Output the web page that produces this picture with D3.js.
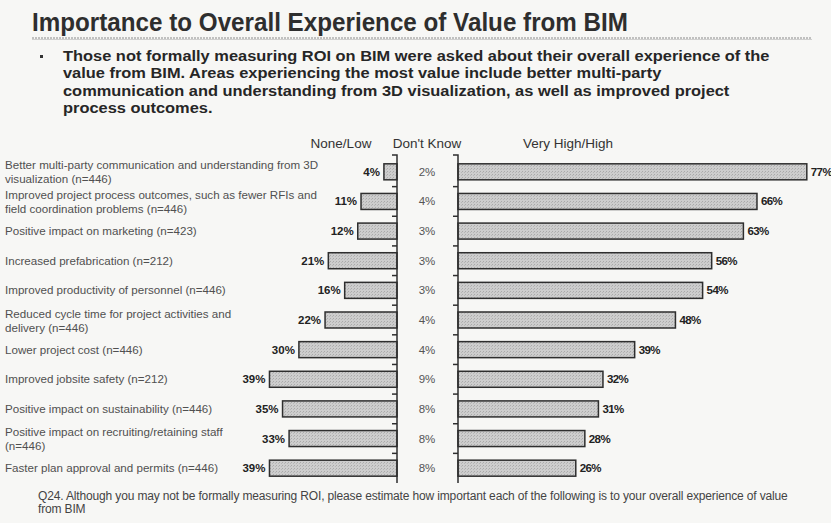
<!DOCTYPE html>
<html>
<head>
<meta charset="utf-8">
<script src="https://cdn.jsdelivr.net/npm/d3@7"></script>
<style>
  body { margin: 0; background: #f7f7f5; }
  svg { display: block; }
</style>
</head>
<body>
<div id="chart"></div>
<script>
const categories = [
  "Better multi-party communication and understanding from 3D\nvisualization (n=446)",
  "Improved project process outcomes, such as fewer RFIs and\nfield coordination problems (n=446)",
  "Positive impact on marketing (n=423)",
  "Increased prefabrication (n=212)",
  "Improved productivity of personnel (n=446)",
  "Reduced cycle time for project activities and\ndelivery (n=446)",
  "Lower project cost (n=446)",
  "Improved jobsite safety (n=212)",
  "Positive impact on sustainability (n=446)",
  "Positive impact on recruiting/retaining staff\n(n=446)",
  "Faster plan approval and permits (n=446)"
];
const noneLow  = [4, 11, 12, 21, 16, 22, 30, 39, 35, 33, 39];
const dontKnow = [2, 4, 3, 3, 3, 4, 4, 9, 8, 8, 8];
const veryHigh = [77, 66, 63, 56, 54, 48, 39, 32, 31, 28, 26];
const headers = ["None/Low", "Don't Know", "Very High/High"];

const title = "Importance to Overall Experience of Value from BIM";
const bulletLines = [
  "Those not formally measuring ROI on BIM were asked about their overall experience of the",
  "value from BIM.  Areas experiencing the most value include better multi-party",
  "communication and understanding from 3D visualization, as well as improved project",
  "process outcomes."
];
const footLines = [
  "Q24. Although you may not be formally measuring ROI, please estimate how important each of the following is to your overall experience of value",
  "from BIM"
];

const W = 831, H = 523;
const sans = "'Liberation Sans', Arial, sans-serif";

const svg = d3.select("#chart").append("svg")
  .attr("width", W).attr("height", H)
  .attr("xmlns", "http://www.w3.org/2000/svg");

svg.append("rect").attr("width", W).attr("height", H).attr("fill", "#f7f7f5");

// bar texture
const defs = svg.append("defs");
const pat = defs.append("pattern")
  .attr("id", "dots").attr("width", 3).attr("height", 3)
  .attr("patternUnits", "userSpaceOnUse");
pat.append("rect").attr("width", 3).attr("height", 3).attr("fill", "#cdcdcd");
pat.append("rect").attr("x", 0).attr("y", 0).attr("width", 1).attr("height", 1).attr("fill", "#aaaaaa");
pat.append("rect").attr("x", 2).attr("y", 1).attr("width", 1).attr("height", 1).attr("fill", "#b6b6b6");

// title + rule (narrow look via textLength)
svg.append("text")
  .attr("x", 32).attr("y", 31)
  .attr("textLength", 596).attr("lengthAdjust", "spacingAndGlyphs")
  .style("font-family", sans).style("font-weight", "bold")
  .style("font-size", "26px").attr("fill", "#2e2e2e")
  .text(title);

svg.append("line").attr("x1", 32).attr("x2", 812).attr("y1", 38).attr("y2", 38)
  .attr("stroke", "#8a8a8a").attr("stroke-width", 1.2).attr("stroke-dasharray", "2,1");
svg.append("line").attr("x1", 32).attr("x2", 812).attr("y1", 39.5).attr("y2", 39.5)
  .attr("stroke", "#c4c4c4").attr("stroke-width", 0.8);

// bullet text
svg.append("rect").attr("x", 40).attr("y", 55).attr("width", 3).attr("height", 3).attr("fill", "#333");
const bullet = svg.append("g").attr("transform", "translate(63,0)");
bullet.selectAll("text").data(bulletLines).join("text")
  .attr("x", 0).attr("y", (d, i) => 61 + i * 17.5)
  .style("font-family", sans).style("font-weight", "bold")
  .style("font-size", "15.5px").attr("fill", "#262626")
  .text(d => d);
const firstLen = bullet.select("text").node().getComputedTextLength();
bullet.attr("transform", `translate(63,0) scale(${707 / firstLen},1)`);

// scales
const y = d3.scaleBand().domain(categories).range([157, 483]).paddingInner(0.46).paddingOuter(0.23);
const xL = d3.scaleLinear().domain([0, 100]).range([397, 70]);
const xR = d3.scaleLinear().domain([0, 100]).range([458, 911]);
const step = y.step();
const idx = d3.range(categories.length);

// headers
svg.append("g").selectAll("text").data(headers).join("text")
  .attr("x", (d, i) => [341, 427, 568][i]).attr("y", 148)
  .attr("text-anchor", "middle")
  .style("font-family", sans).style("font-size", "13.5px").attr("fill", "#333")
  .text(d => d);

// category labels
const lab = svg.append("g").selectAll("text").data(categories).join("text")
  .style("font-family", sans).style("font-size", "11.6px").attr("fill", "#505050")
  .attr("x", 5)
  .attr("y", d => {
    const c = y(d) + y.bandwidth() / 2;
    return d.includes("\n") ? c - 2.5 : c + 4;
  });
lab.selectAll("tspan").data(d => d.split("\n")).join("tspan")
  .attr("x", 5).attr("dy", (d, i) => i ? 14 : 0).text(d => d);

// left bars (None/Low)
svg.append("g").selectAll("rect").data(idx).join("rect")
  .attr("x", i => xL(noneLow[i]))
  .attr("y", i => y(categories[i]))
  .attr("width", i => xL(0) - xL(noneLow[i]))
  .attr("height", y.bandwidth())
  .attr("fill", "url(#dots)").attr("stroke", "#2e2e2e").attr("stroke-width", 1.5);

svg.append("g").selectAll("text").data(idx).join("text")
  .attr("x", i => xL(noneLow[i]) - 4)
  .attr("y", i => y(categories[i]) + y.bandwidth() / 2 + 4)
  .attr("text-anchor", "end")
  .style("font-family", sans).style("font-weight", "bold").style("font-size", "11.5px")
  .attr("fill", "#222")
  .text(i => noneLow[i] + "%");

// right bars (Very High/High)
svg.append("g").selectAll("rect").data(idx).join("rect")
  .attr("x", xR(0))
  .attr("y", i => y(categories[i]))
  .attr("width", i => xR(veryHigh[i]) - xR(0))
  .attr("height", y.bandwidth())
  .attr("fill", "url(#dots)").attr("stroke", "#2e2e2e").attr("stroke-width", 1.5);

svg.append("g").selectAll("text").data(idx).join("text")
  .attr("x", i => xR(veryHigh[i]) + 4)
  .attr("y", i => y(categories[i]) + y.bandwidth() / 2 + 4)
  .style("font-family", sans).style("font-weight", "bold").style("font-size", "11.5px")
  .style("letter-spacing", "-0.6px")
  .attr("fill", "#222")
  .text(i => veryHigh[i] + "%");

// don't know values
svg.append("g").selectAll("text").data(idx).join("text")
  .attr("x", 427)
  .attr("y", i => y(categories[i]) + y.bandwidth() / 2 + 4)
  .attr("text-anchor", "middle")
  .style("font-family", sans).style("font-size", "11.5px").attr("fill", "#555")
  .text(i => dontKnow[i] + "%");

// axes: band boundaries as ticks
const bounds = d3.range(1, categories.length).map(k => 157 + k * step);
[xL(0), xR(0)].forEach(ax => {
  const g = svg.append("g").attr("stroke", "#2e2e2e").attr("stroke-width", 1.5);
  g.append("path").attr("fill", "none")
    .attr("d", `M${ax - 5},155H${ax}V483`);
  g.selectAll("line").data(bounds).join("line")
    .attr("x1", ax - 5).attr("x2", ax).attr("y1", d => d).attr("y2", d => d);
});

// footnote
svg.append("g").selectAll("text").data(footLines).join("text")
  .attr("x", 38).attr("y", (d, i) => 500 + i * 12.5)
  .style("font-family", sans).style("font-size", "12px").attr("fill", "#444")
  .style("letter-spacing", "-0.15px")
  .text(d => d);
</script>
</body>
</html>
